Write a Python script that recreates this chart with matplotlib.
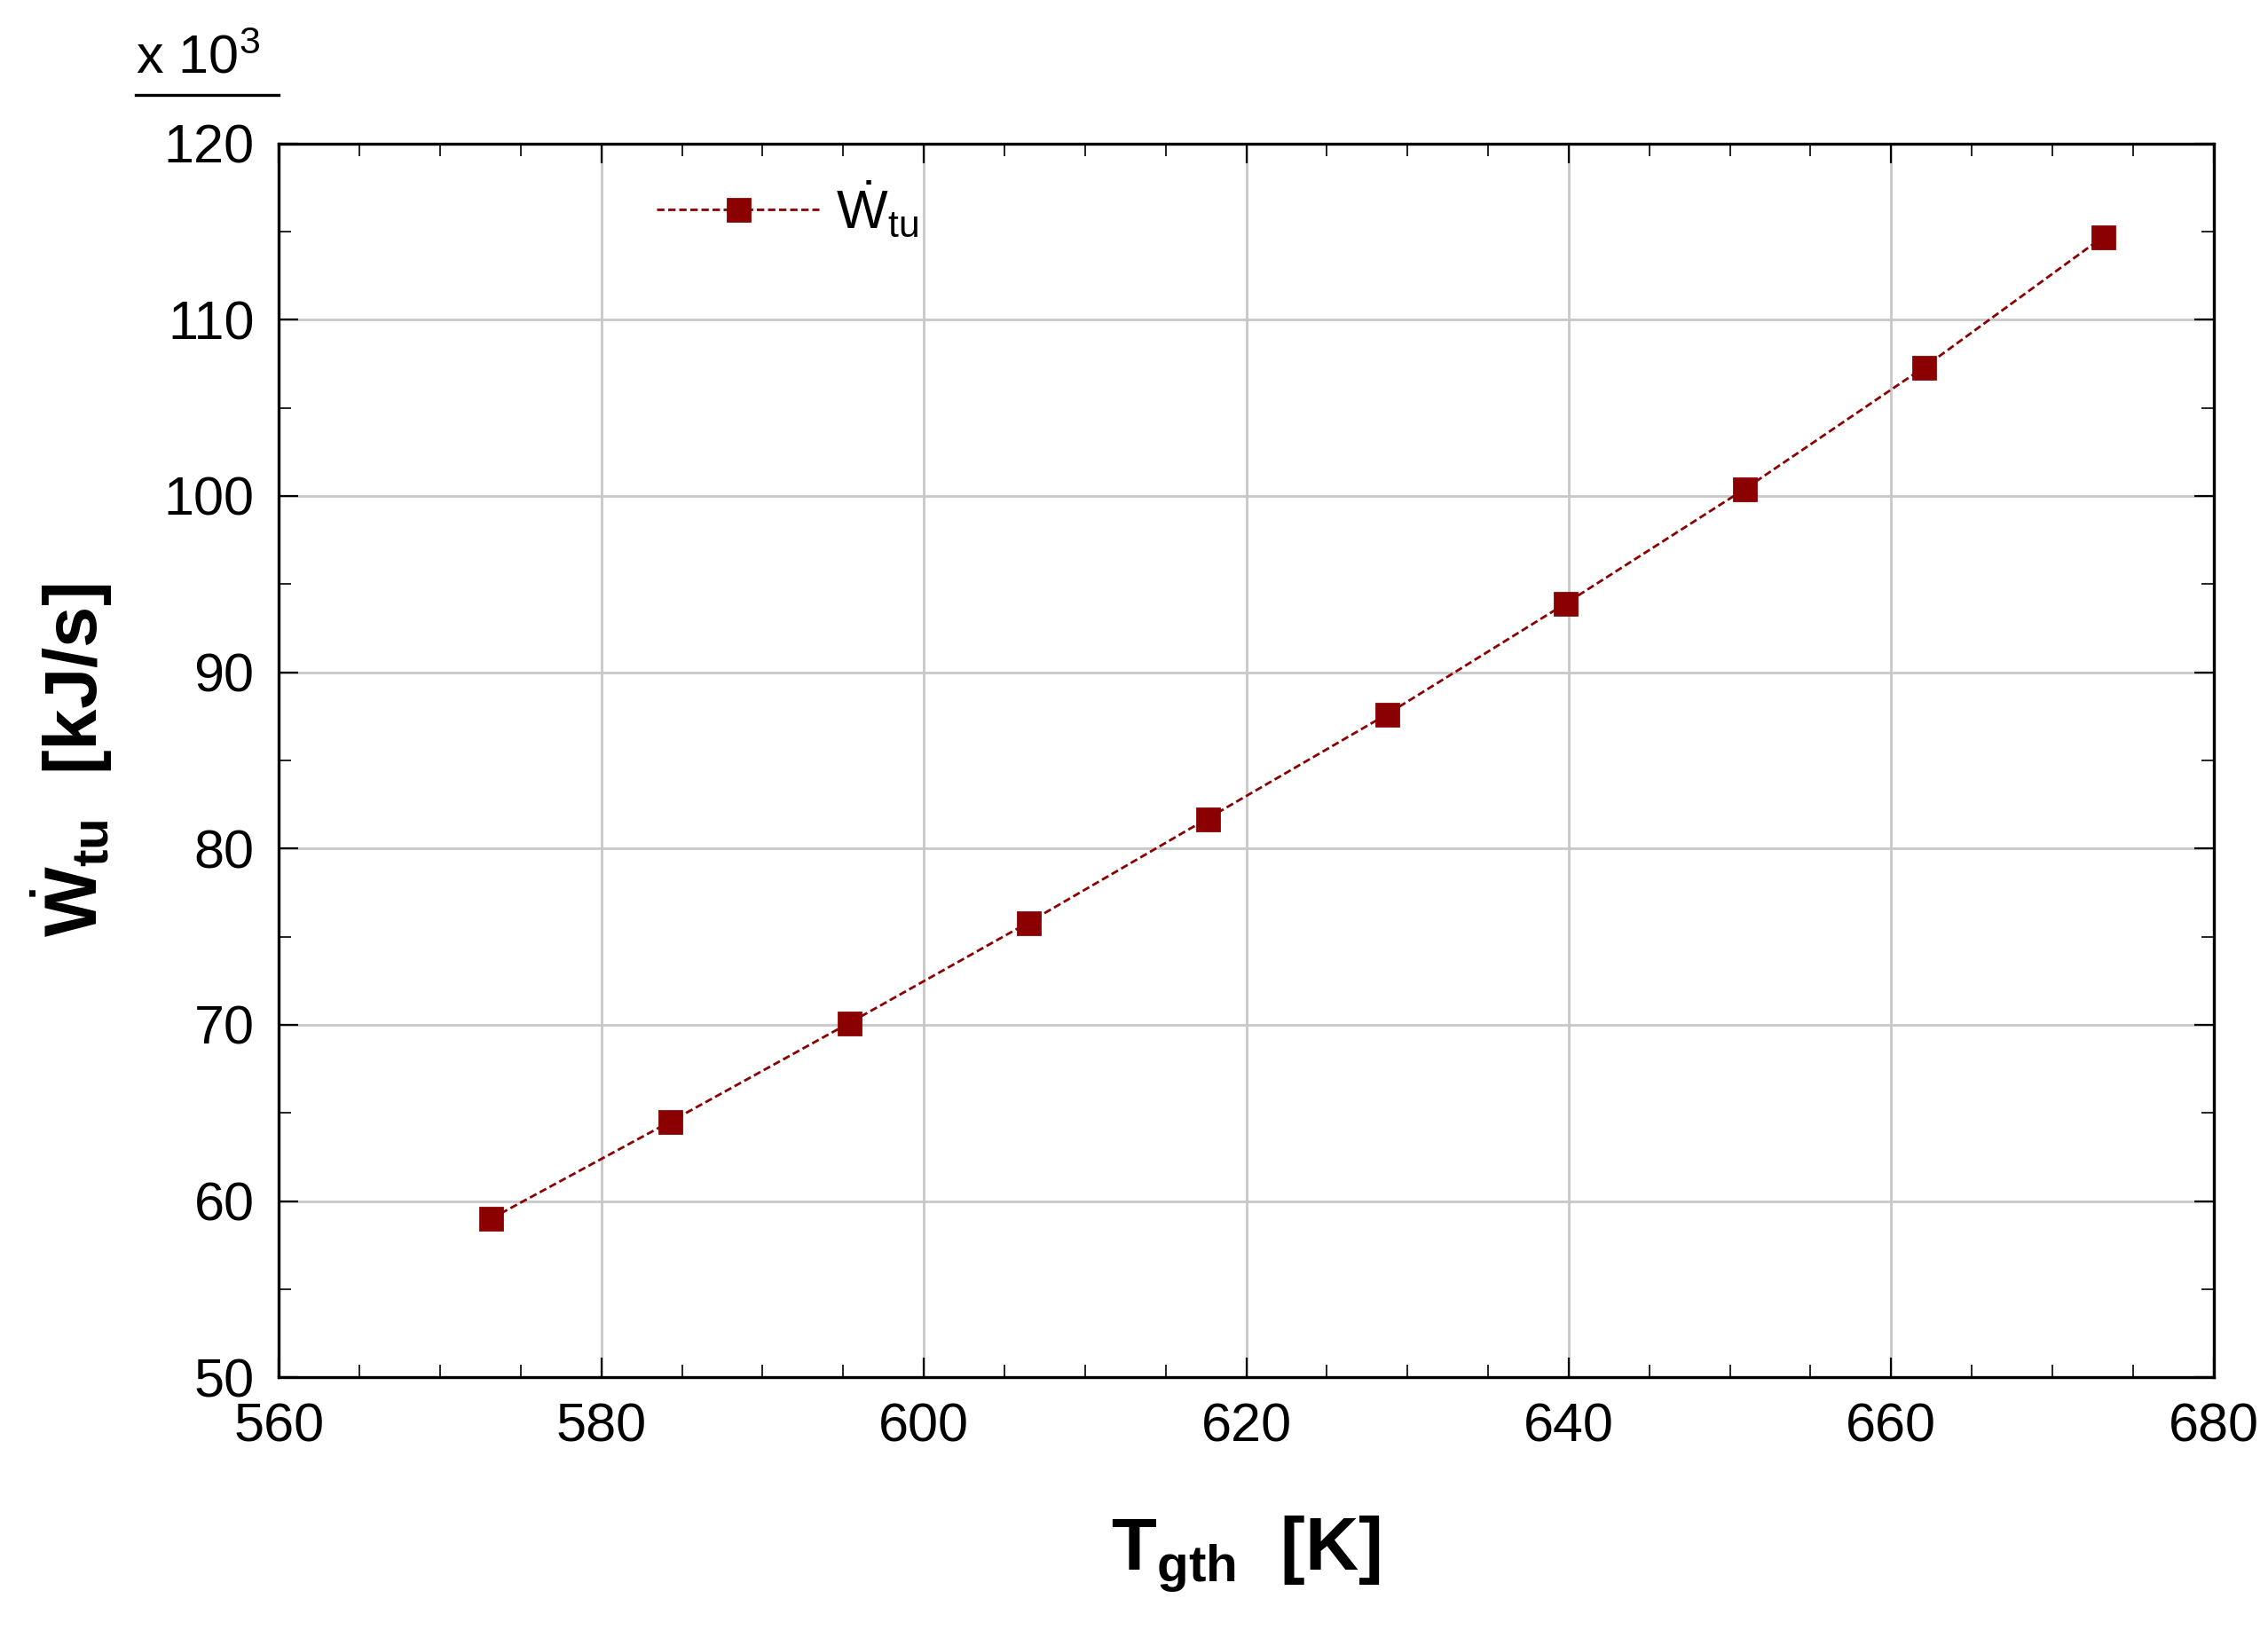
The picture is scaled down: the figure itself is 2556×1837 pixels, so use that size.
import matplotlib
matplotlib.use("Agg")
import matplotlib.pyplot as plt
from matplotlib.ticker import MultipleLocator

plt.rcParams['font.family'] = ['Liberation Sans', 'DejaVu Sans']
plt.rcParams['mathtext.fontset'] = 'custom'
plt.rcParams['mathtext.rm'] = 'Liberation Sans'
plt.rcParams['mathtext.bf'] = 'Liberation Sans:bold'
plt.rcParams['mathtext.it'] = 'Liberation Sans:italic'

T_gth = [573.15, 584.26, 595.37, 606.48, 617.59, 628.70, 639.81, 650.93, 662.04, 673.15]
W_tu = [59.0, 64.5, 70.1, 75.8, 81.7, 87.6, 93.9, 100.4, 107.3, 114.7]

fig = plt.figure(figsize=(12.78, 9.185), dpi=200)
ax = fig.add_axes([0.123, 0.155, 0.853, 0.757])
color = "#8B0000"
ax.plot(T_gth, W_tu, linestyle=(0, (3, 1.5)), lw=1.0, color=color,
        marker="s", markersize=9, markerfacecolor=color, markeredgecolor=color,
        label=r"$\dot{\mathrm{W}}_{\mathrm{tu}}$")
ax.set_xlim(560, 680)
ax.set_ylim(50, 120)
ax.xaxis.set_major_locator(MultipleLocator(20))
ax.xaxis.set_minor_locator(MultipleLocator(5))
ax.yaxis.set_major_locator(MultipleLocator(10))
ax.yaxis.set_minor_locator(MultipleLocator(5))
ax.grid(True, which="major", color="#c8c8c8", lw=1.0)
ax.tick_params(which="both", direction="in", top=True, right=True, labelsize=22, pad=10)
ax.tick_params(which="major", length=8)
ax.tick_params(which="minor", length=5)
for s in ax.spines.values():
    s.set_linewidth(1.2)
ax.set_xlabel(r"$\mathbf{T_{gth}}$  [K]", fontsize=30, fontweight="bold", labelpad=25)
ax.set_ylabel(r"$\dot{\mathbf{W}}_{\mathbf{tu}}$  [kJ/s]", fontsize=30, fontweight="bold", labelpad=20)
ax.legend(loc="upper left", bbox_to_anchor=(0.17, 1.01), frameon=False, fontsize=22,
          handlelength=3, handletextpad=0.3)
fig.text(0.06, 0.955, r"x 10$^3$", fontsize=22)
fig.add_artist(plt.Line2D([0.06, 0.123], [0.942, 0.942], color="black", lw=1.2, transform=fig.transFigure))
fig.savefig("out.png", dpi=200, facecolor="white")
